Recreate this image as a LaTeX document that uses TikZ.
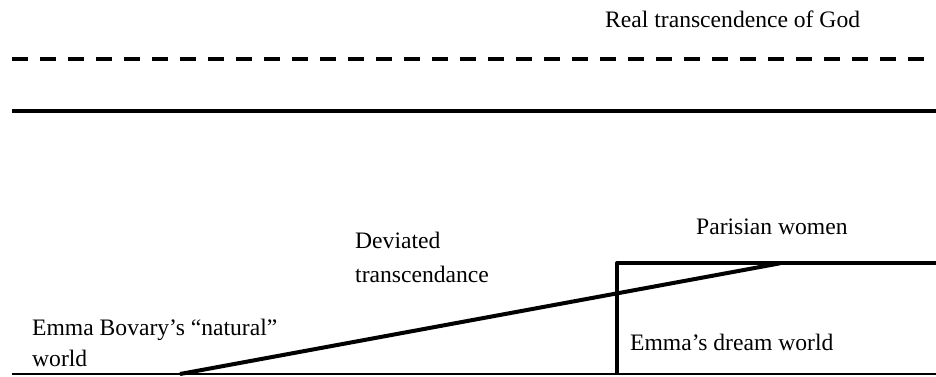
\documentclass[tikz,border=0pt]{standalone}
\usepackage{fontspec}
\setmainfont{Liberation Serif}
\begin{document}
\begin{tikzpicture}[x=1pt,y=-1pt,
  lbl/.style={anchor=base west, inner sep=0pt, font=\fontsize{23.6}{33}\selectfont},
  heavy/.style={line width=4pt},
  thin/.style={line width=1.5pt}]
\useasboundingbox (0,0) rectangle (936,376);

% levels
\coordinate (dL) at (12,59.3);
\coordinate (dR) at (924,59.3);
\coordinate (sL) at (12,110.7);
\coordinate (sR) at (936,110.7);
\coordinate (gL) at (12,374);
\coordinate (gR) at (936,374);

% dream world box and the rising path
\coordinate (boxB) at (617,374);
\coordinate (boxT) at (617,263.3);
\coordinate (boxR) at (936,263.3);
\coordinate (rise0) at (180,374);
\coordinate (rise1) at (780,263.3);

\draw[heavy, dash pattern=on 16pt off 12pt] (dL) -- (dR);
\draw[heavy] (sL) -- (sR);
\draw[thin] (gL) -- (gR);
\draw[heavy, line join=round] (boxB) -- (boxT) -- (boxR);
\draw[heavy] (rise0) -- (rise1);

\node[lbl] (god) at (605,27.5) {Real transcendence of God};
\node[lbl] (dev1) at (355,248) {Deviated};
\node[lbl] (dev2) at (355,282) {transcendance};
\node[lbl] (par) at (696,234) {Parisian women};
\node[lbl] (nat1) at (32,335) {Emma Bovary’s “natural”};
\node[lbl] (nat2) at (32,366) {world};
\node[lbl] (dream) at (630,350) {Emma’s dream world};
\end{tikzpicture}
\end{document}
